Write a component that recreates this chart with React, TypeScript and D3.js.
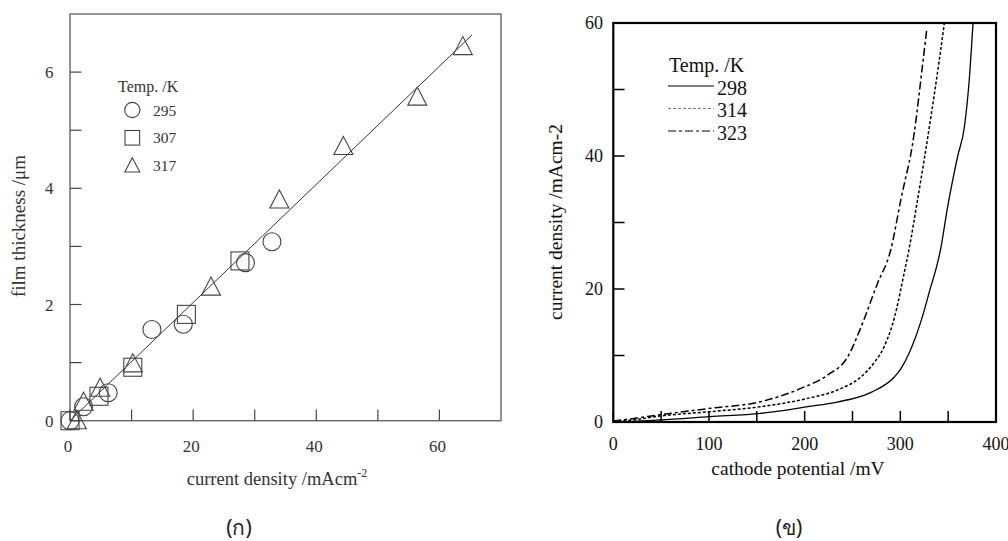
import React from "react";
import * as d3 from "d3";

// ---------- Panel (ก): film thickness vs current density ----------
const leftXTicks = [0, 10, 20, 30, 40, 50, 60];
const leftXLabels = [0, 20, 40, 60];
const leftYTicks = [0, 1, 2, 3, 4, 5, 6];
const leftYLabels = [0, 2, 4, 6];

const series295: [number, number][] = [
  [0, 0], [2.2, 0.24], [6.2, 0.48], [13.3, 1.57], [18.4, 1.66], [28.5, 2.72], [32.8, 3.08],
];
const series307: [number, number][] = [
  [0, 0], [4.7, 0.42], [10.2, 0.92], [18.9, 1.83], [27.6, 2.75],
];
const series317: [number, number][] = [
  [1.1, 0], [2.2, 0.32], [4.9, 0.56], [10.2, 0.98], [22.9, 2.3], [34, 3.8], [44.4, 4.72], [56.4, 5.57], [63.8, 6.44],
];
const fitLine: [number, number][] = [
  [0, 0], [65.3, 6.64],
];

// ---------- Panel (ข): current density vs cathode potential ----------
const rightXTicks = [0, 50, 100, 150, 200, 250, 300, 350, 400];
const rightXLabels = [0, 100, 200, 300, 400];
const rightYTicks = [0, 10, 20, 30, 40, 50, 60];
const rightYLabels = [0, 20, 40, 60];

const curve298: [number, number][] = [
  [0, 0.05], [20, 0.1], [49, 0.3], [101, 0.8], [154, 1.3], [203, 2.3], [234, 3.0], [270, 4.5],
  [294, 6.8], [301, 8.1], [309, 10.3], [323, 15.8], [330, 19.4], [342, 25.9], [349.5, 32.4],
  [360, 40], [367, 44.4], [372, 51.4], [376, 60],
];
const curve314: [number, number][] = [
  [0, 0.1], [20, 0.3], [49, 0.9], [101, 1.55], [154, 2.3], [203, 3.55], [234, 4.8], [259, 6.8],
  [272, 8.8], [283, 11.3], [294, 15.8], [304, 22.4], [309, 25.9], [318, 33.4], [332, 45.9],
  [340.6, 54.3], [346, 60],
];
const curve323: [number, number][] = [
  [0, 0.15], [25, 0.6], [49, 1.1], [101, 2.05], [154, 3.05], [196, 5.05], [224, 7.05], [245, 9.8],
  [259, 14.3], [276, 20.8], [290, 25.9], [300.5, 33.4], [314.5, 43.4], [323, 53.4], [327.6, 59],
];

const legendLeft = ["295", "307", "317"];
const legendRight = ["298", "314", "323"];

const serif = "'Liberation Serif', 'Times New Roman', serif";
const thai = "'Noto Sans', 'DejaVu Sans', sans-serif";

export default function App() {
  // left scales
  const lx = d3.scaleLinear().domain([0, 70]).range([70, 501]);
  const ly = d3.scaleLinear().domain([0, 7]).range([420.7, 14]);
  // right scales
  const rx = d3.scaleLinear().domain([0, 400]).range([613.3, 996]);
  const ry = d3.scaleLinear().domain([0, 60]).range([422, 23]);

  const lineL = d3.line<[number, number]>().x((d) => lx(d[0])).y((d) => ly(d[1]));
  const lineR = d3
    .line<[number, number]>()
    .x((d) => rx(d[0]))
    .y((d) => ry(d[1]))
    .curve(d3.curveMonotoneX);

  const markColor = "#444";
  const circle = (cx: number, cy: number, r: number, key: string) => (
    <circle key={key} cx={cx} cy={cy} r={r} fill="none" stroke={markColor} strokeWidth={1.1} />
  );
  const square = (cx: number, cy: number, h: number, key: string) => (
    <rect key={key} x={cx - h} y={cy - h} width={2 * h} height={2 * h} fill="none" stroke={markColor} strokeWidth={1.1} />
  );
  const triangle = (cx: number, cy: number, h: number, key: string) => (
    <path
      key={key}
      d={`M${cx},${cy - h * 1.05}L${cx + h},${cy + h * 0.85}L${cx - h},${cy + h * 0.85}Z`}
      fill="none"
      stroke={markColor}
      strokeWidth={1.1}
    />
  );

  const dashes = ["none", "3,2", "8,3,3,3"];
  const curves = [curve298, curve314, curve323];

  return (
    <svg
      width={1008}
      height={541}
      style={{ position: "absolute", left: 0, top: 0, background: "#fff" }}
      fontFamily={serif}
    >
      {/* ===== Left panel ===== */}
      <rect x={70} y={14} width={431} height={406.7} fill="none" stroke="#666" strokeWidth={1.4} />
      {leftXTicks.map((t) => (
        <line key={"lxt" + t} x1={lx(t)} x2={lx(t)} y1={420.7} y2={409.5} stroke="#444" strokeWidth={1.2} />
      ))}
      {leftYTicks.map((t) => (
        <line key={"lyt" + t} x1={70} x2={81.5} y1={ly(t)} y2={ly(t)} stroke="#444" strokeWidth={1.2} />
      ))}
      {leftXLabels.map((t) => (
        <text key={"lxl" + t} x={lx(t) - 2} y={452} textAnchor="middle" fontSize={17} fill="#333">
          {t}
        </text>
      ))}
      {leftYLabels.map((t) => (
        <text key={"lyl" + t} x={53.5} y={ly(t) + 6} textAnchor="end" fontSize={17} fill="#333">
          {t}
        </text>
      ))}
      <text x={277} y={485} textAnchor="middle" fontSize={18.5} fill="#333">
        current density /mAcm
        <tspan dy={-8} fontSize={12}>-2</tspan>
      </text>
      <text
        transform={`translate(25,226) rotate(-90)`}
        textAnchor="middle"
        fontSize={19}
        fill="#333"
      >
        film thickness /μm
      </text>
      <path d={lineL(fitLine) || ""} fill="none" stroke="#333" strokeWidth={1} />
      {series295.map((d, i) => circle(lx(d[0]), ly(d[1]), 9, "c" + i))}
      {series307.map((d, i) => square(lx(d[0]), ly(d[1]), 9, "s" + i))}
      {series317.map((d, i) => triangle(lx(d[0]), ly(d[1]), 9.5, "t" + i))}
      {/* legend */}
      <text x={118} y={92} fontSize={16} fill="#333">Temp. /K</text>
      {legendLeft.map((lab, i) => {
        const cy = 110 + i * 27.8;
        const m =
          i === 0 ? circle(132.3, cy, 7.6, "lc") : i === 1 ? square(132.3, cy, 7.3, "ls") : triangle(132.3, cy, 7.5, "lt");
        return (
          <g key={"ll" + lab}>
            {m}
            <text x={153} y={cy + 5.5} fontSize={15.5} fill="#333">{lab}</text>
          </g>
        );
      })}

      {/* ===== Right panel ===== */}
      {rightXTicks.map((t) => (
        <line key={"rxt" + t} x1={rx(t)} x2={rx(t)} y1={422} y2={411} stroke="#000" strokeWidth={1.5} />
      ))}
      {rightYTicks.map((t) => (
        <line key={"ryt" + t} x1={613.3} x2={624.5} y1={ry(t)} y2={ry(t)} stroke="#000" strokeWidth={1.5} />
      ))}
      {curves.map((c, i) => (
        <path
          key={"curve" + i}
          d={lineR(c) || ""}
          fill="none"
          stroke="#000"
          strokeWidth={i === 0 ? 1.3 : 1.5}
          strokeDasharray={dashes[i]}
        />
      ))}
      <rect x={613.3} y={23} width={382.7} height={399} fill="none" stroke="#000" strokeWidth={2.2} />
      {rightXLabels.map((t) => (
        <text key={"rxl" + t} x={rx(t)} y={450} textAnchor="middle" fontSize={18} fill="#111">
          {t}
        </text>
      ))}
      {rightYLabels.map((t) => (
        <text key={"ryl" + t} x={603} y={ry(t) + 6} textAnchor="end" fontSize={18} fill="#111">
          {t}
        </text>
      ))}
      <text x={798} y={475} textAnchor="middle" fontSize={19.5} fill="#111">
        cathode potential /mV
      </text>
      <text
        transform={`translate(562,222) rotate(-90)`}
        textAnchor="middle"
        fontSize={19.5}
        fill="#111"
      >
        current density /mAcm-2
      </text>
      {/* legend */}
      <text x={669} y={72} fontSize={20} fill="#111">Temp. /K</text>
      {legendRight.map((lab, i) => {
        const cy = 86 + i * 22.5;
        return (
          <g key={"rl" + lab}>
            <line x1={668} x2={714} y1={cy} y2={cy} stroke={i === 1 ? "#777" : "#000"} strokeWidth={1.1} strokeDasharray={dashes[i]} />
            <text x={717} y={cy + 8.5} fontSize={20} fill="#111">{lab}</text>
          </g>
        );
      })}

      {/* captions */}
      <text x={239} y={535} textAnchor="middle" fontSize={21} fill="#222" fontFamily={thai}>
        (ก)
      </text>
      <text x={789} y={535} textAnchor="middle" fontSize={21} fill="#222" fontFamily={thai}>
        (ข)
      </text>
    </svg>
  );
}
